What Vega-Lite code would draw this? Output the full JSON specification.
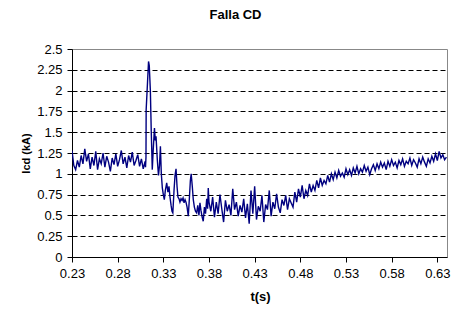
{
  "$schema": "https://vega.github.io/schema/vega-lite/v6.json",
  "autosize": "none",
  "width": 375,
  "height": 208,
  "padding": {"left": 72, "top": 49, "right": 6, "bottom": 52},
  "background": "white",
  "config": {
    "font": "Liberation Sans",
    "view": {"stroke": "#888888", "strokeWidth": 1}
  },
  "title": {
    "text": "Falla CD",
    "font": "Liberation Sans",
    "fontSize": 13,
    "fontWeight": "bold",
    "color": "#000000",
    "anchor": "middle",
    "dx": -24,
    "offset": 21
  },
  "data": {
    "values": [
      {"t": 0.230, "i": 1.28}, {"t": 0.232, "i": 1.10}, {"t": 0.234, "i": 1.05}, {"t": 0.236, "i": 1.16},
      {"t": 0.238, "i": 1.08}, {"t": 0.240, "i": 1.22}, {"t": 0.242, "i": 1.12}, {"t": 0.244, "i": 1.30},
      {"t": 0.246, "i": 1.15}, {"t": 0.248, "i": 1.24}, {"t": 0.250, "i": 1.06}, {"t": 0.252, "i": 1.20},
      {"t": 0.254, "i": 1.10}, {"t": 0.256, "i": 1.27}, {"t": 0.258, "i": 1.05}, {"t": 0.260, "i": 1.18},
      {"t": 0.262, "i": 1.12}, {"t": 0.264, "i": 1.25}, {"t": 0.266, "i": 1.08}, {"t": 0.268, "i": 1.21},
      {"t": 0.270, "i": 1.14}, {"t": 0.272, "i": 1.03}, {"t": 0.274, "i": 1.19}, {"t": 0.276, "i": 1.11},
      {"t": 0.278, "i": 1.24}, {"t": 0.280, "i": 1.09}, {"t": 0.282, "i": 1.17}, {"t": 0.284, "i": 1.28},
      {"t": 0.286, "i": 1.12}, {"t": 0.288, "i": 1.20}, {"t": 0.290, "i": 1.07}, {"t": 0.292, "i": 1.22},
      {"t": 0.294, "i": 1.14}, {"t": 0.296, "i": 1.26}, {"t": 0.298, "i": 1.10}, {"t": 0.300, "i": 1.16},
      {"t": 0.302, "i": 1.23}, {"t": 0.304, "i": 1.09}, {"t": 0.306, "i": 1.18}, {"t": 0.308, "i": 1.06},
      {"t": 0.3100, "i": 1.15}, {"t": 0.3105, "i": 1.08}, {"t": 0.3110, "i": 1.20}, {"t": 0.3112, "i": 1.77},
      {"t": 0.3127, "i": 2.10}, {"t": 0.3138, "i": 2.35}, {"t": 0.3146, "i": 2.30}, {"t": 0.3158, "i": 2.00},
      {"t": 0.3168, "i": 1.50}, {"t": 0.3179, "i": 1.05}, {"t": 0.3190, "i": 1.30}, {"t": 0.3203, "i": 1.55},
      {"t": 0.3212, "i": 1.40}, {"t": 0.3220, "i": 1.45}, {"t": 0.3234, "i": 1.17}, {"t": 0.3247, "i": 0.98},
      {"t": 0.3258, "i": 1.10}, {"t": 0.3268, "i": 1.33}, {"t": 0.3278, "i": 1.00}, {"t": 0.3289, "i": 0.83},
      {"t": 0.3300, "i": 0.75}, {"t": 0.3311, "i": 0.69}, {"t": 0.3322, "i": 0.80}, {"t": 0.3337, "i": 0.89},
      {"t": 0.3350, "i": 0.78}, {"t": 0.3362, "i": 0.85}, {"t": 0.3373, "i": 0.72}, {"t": 0.3385, "i": 0.62},
      {"t": 0.3395, "i": 0.55}, {"t": 0.3404, "i": 0.53}, {"t": 0.3417, "i": 0.80}, {"t": 0.3428, "i": 0.98},
      {"t": 0.3439, "i": 1.06}, {"t": 0.3450, "i": 0.85}, {"t": 0.3460, "i": 0.72}, {"t": 0.3472, "i": 0.70},
      {"t": 0.3482, "i": 0.66}, {"t": 0.3494, "i": 0.70}, {"t": 0.3505, "i": 0.68}, {"t": 0.3516, "i": 0.71},
      {"t": 0.3527, "i": 0.65}, {"t": 0.3538, "i": 0.69}, {"t": 0.3548, "i": 0.66}, {"t": 0.3560, "i": 0.60},
      {"t": 0.3573, "i": 0.49}, {"t": 0.3585, "i": 0.70}, {"t": 0.3596, "i": 0.92}, {"t": 0.3605, "i": 1.00},
      {"t": 0.3617, "i": 0.85}, {"t": 0.3628, "i": 0.69}, {"t": 0.3640, "i": 0.60}, {"t": 0.3652, "i": 0.55},
      {"t": 0.3665, "i": 0.53}, {"t": 0.3677, "i": 0.62}, {"t": 0.3690, "i": 0.50}, {"t": 0.3701, "i": 0.65},
      {"t": 0.3712, "i": 0.56}, {"t": 0.3725, "i": 0.48}, {"t": 0.3737, "i": 0.43}, {"t": 0.3750, "i": 0.60},
      {"t": 0.3762, "i": 0.52}, {"t": 0.3775, "i": 0.70}, {"t": 0.3785, "i": 0.58}, {"t": 0.3792, "i": 0.83},
      {"t": 0.3800, "i": 0.66},
      {"t": 0.382, "i": 0.55}, {"t": 0.384, "i": 0.72}, {"t": 0.386, "i": 0.48}, {"t": 0.388, "i": 0.66},
      {"t": 0.390, "i": 0.52}, {"t": 0.392, "i": 0.75}, {"t": 0.394, "i": 0.58}, {"t": 0.396, "i": 0.42},
      {"t": 0.398, "i": 0.68}, {"t": 0.400, "i": 0.55}, {"t": 0.402, "i": 0.63}, {"t": 0.404, "i": 0.50},
      {"t": 0.406, "i": 0.82}, {"t": 0.408, "i": 0.57}, {"t": 0.410, "i": 0.66}, {"t": 0.412, "i": 0.49},
      {"t": 0.414, "i": 0.62}, {"t": 0.416, "i": 0.54}, {"t": 0.418, "i": 0.70}, {"t": 0.420, "i": 0.47},
      {"t": 0.422, "i": 0.64}, {"t": 0.424, "i": 0.40}, {"t": 0.426, "i": 0.80}, {"t": 0.428, "i": 0.52},
      {"t": 0.430, "i": 0.85}, {"t": 0.432, "i": 0.45}, {"t": 0.434, "i": 0.61}, {"t": 0.436, "i": 0.55},
      {"t": 0.438, "i": 0.74}, {"t": 0.440, "i": 0.42}, {"t": 0.442, "i": 0.63}, {"t": 0.444, "i": 0.57},
      {"t": 0.446, "i": 0.80}, {"t": 0.448, "i": 0.49}, {"t": 0.450, "i": 0.66}, {"t": 0.452, "i": 0.58},
      {"t": 0.454, "i": 0.76}, {"t": 0.456, "i": 0.60}, {"t": 0.458, "i": 0.53}, {"t": 0.460, "i": 0.69},
      {"t": 0.462, "i": 0.62}, {"t": 0.464, "i": 0.74}, {"t": 0.466, "i": 0.57}, {"t": 0.468, "i": 0.70},
      {"t": 0.470, "i": 0.65}, {"t": 0.472, "i": 0.60}, {"t": 0.474, "i": 0.78}, {"t": 0.476, "i": 0.66},
      {"t": 0.478, "i": 0.82}, {"t": 0.480, "i": 0.72}, {"t": 0.482, "i": 0.86}, {"t": 0.484, "i": 0.70},
      {"t": 0.486, "i": 0.80}, {"t": 0.488, "i": 0.74}, {"t": 0.490, "i": 0.88}, {"t": 0.492, "i": 0.78},
      {"t": 0.494, "i": 0.86}, {"t": 0.496, "i": 0.80}, {"t": 0.498, "i": 0.92}, {"t": 0.500, "i": 0.83},
      {"t": 0.502, "i": 0.95}, {"t": 0.504, "i": 0.86}, {"t": 0.506, "i": 0.92}, {"t": 0.508, "i": 0.88},
      {"t": 0.510, "i": 0.98}, {"t": 0.512, "i": 0.90}, {"t": 0.514, "i": 1.00}, {"t": 0.516, "i": 0.93},
      {"t": 0.518, "i": 1.02}, {"t": 0.520, "i": 0.95}, {"t": 0.522, "i": 1.04}, {"t": 0.524, "i": 0.97},
      {"t": 0.526, "i": 1.01}, {"t": 0.528, "i": 0.96}, {"t": 0.530, "i": 1.06}, {"t": 0.532, "i": 0.99},
      {"t": 0.534, "i": 1.05}, {"t": 0.536, "i": 0.98}, {"t": 0.538, "i": 1.07}, {"t": 0.540, "i": 1.01},
      {"t": 0.542, "i": 1.09}, {"t": 0.544, "i": 1.00}, {"t": 0.546, "i": 1.06}, {"t": 0.548, "i": 1.02},
      {"t": 0.550, "i": 1.10}, {"t": 0.552, "i": 1.03}, {"t": 0.554, "i": 1.08}, {"t": 0.556, "i": 0.99},
      {"t": 0.558, "i": 1.06}, {"t": 0.560, "i": 1.11}, {"t": 0.562, "i": 1.04}, {"t": 0.564, "i": 1.12},
      {"t": 0.566, "i": 1.06}, {"t": 0.568, "i": 1.14}, {"t": 0.570, "i": 1.08}, {"t": 0.572, "i": 1.13},
      {"t": 0.574, "i": 1.05}, {"t": 0.576, "i": 1.15}, {"t": 0.578, "i": 1.09}, {"t": 0.580, "i": 1.17},
      {"t": 0.582, "i": 1.10}, {"t": 0.584, "i": 1.14}, {"t": 0.586, "i": 1.07}, {"t": 0.588, "i": 1.16},
      {"t": 0.590, "i": 1.11}, {"t": 0.592, "i": 1.18}, {"t": 0.594, "i": 1.09}, {"t": 0.596, "i": 1.15},
      {"t": 0.598, "i": 1.12}, {"t": 0.600, "i": 1.19}, {"t": 0.602, "i": 1.10}, {"t": 0.604, "i": 1.17},
      {"t": 0.606, "i": 1.13}, {"t": 0.608, "i": 1.08}, {"t": 0.610, "i": 1.18}, {"t": 0.612, "i": 1.12},
      {"t": 0.614, "i": 1.20}, {"t": 0.616, "i": 1.14}, {"t": 0.618, "i": 1.09}, {"t": 0.620, "i": 1.18},
      {"t": 0.622, "i": 1.13}, {"t": 0.624, "i": 1.21}, {"t": 0.626, "i": 1.15}, {"t": 0.628, "i": 1.24},
      {"t": 0.630, "i": 1.16}, {"t": 0.632, "i": 1.27}, {"t": 0.634, "i": 1.19}, {"t": 0.636, "i": 1.23},
      {"t": 0.638, "i": 1.17}, {"t": 0.640, "i": 1.20}
    ]
  },
  "mark": {"type": "line", "color": "#000080", "strokeWidth": 1.4, "interpolate": "linear", "clip": true},
  "encoding": {
    "x": {
      "field": "t",
      "type": "quantitative",
      "scale": {"domain": [0.23, 0.6406], "nice": false, "zero": false},
      "axis": {
        "title": "t(s)",
        "values": [0.23, 0.28, 0.33, 0.38, 0.43, 0.48, 0.53, 0.58, 0.63],
        "format": ".2f",
        "grid": false,
        "domainColor": "#000000",
        "tickColor": "#000000",
        "tickSize": 5,
        "labelPadding": 5,
        "labelFontSize": 13,
        "labelColor": "#000000",
        "labelFont": "Liberation Sans",
        "labelFlush": false,
        "titleFont": "Liberation Sans",
        "titleFontSize": 13,
        "titleFontWeight": "bold",
        "titleColor": "#000000",
        "titlePadding": 10,
        "titleX": 188
      }
    },
    "y": {
      "field": "i",
      "type": "quantitative",
      "scale": {"domain": [0, 2.5], "nice": false, "zero": true},
      "axis": {
        "title": "Icd (kA)",
        "values": [0, 0.25, 0.5, 0.75, 1, 1.25, 1.5, 1.75, 2, 2.25, 2.5],
        "labelExpr": "datum.value == 0 ? '0' : format(datum.value, '.3~f')",
        "grid": true,
        "gridColor": "#000000",
        "gridDash": [5, 3],
        "gridWidth": 1,
        "gridOpacity": {"condition": {"test": "datum.value >= 2.5", "value": 0}, "value": 1},
        "domainColor": "#000000",
        "tickColor": "#000000",
        "tickSize": 5,
        "labelPadding": 5,
        "labelFontSize": 13,
        "labelColor": "#000000",
        "labelFont": "Liberation Sans",
        "labelFlush": false,
        "titleFont": "Liberation Sans",
        "titleFontSize": 11,
        "titleFontWeight": "bold",
        "titleColor": "#000000",
        "titlePadding": 5
      }
    }
  }
}
